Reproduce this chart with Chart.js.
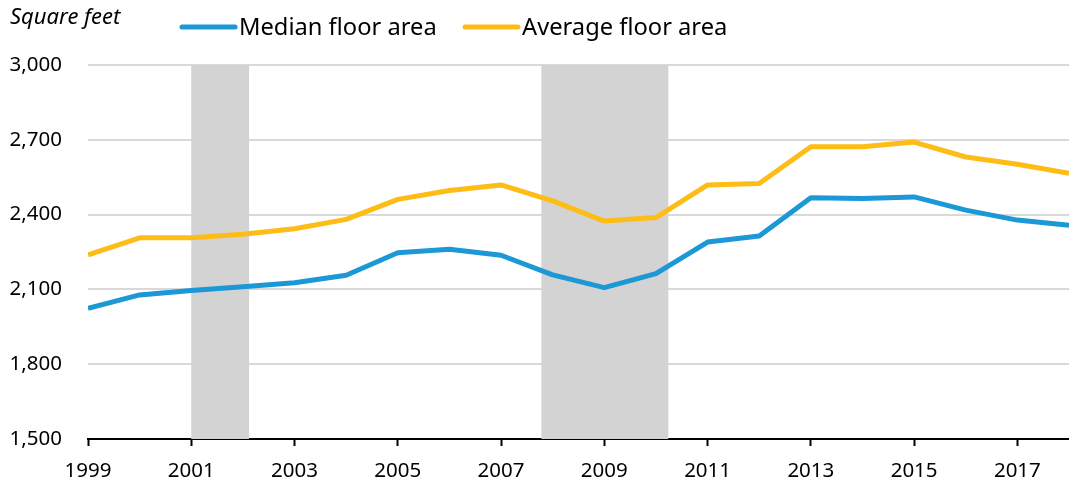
<!DOCTYPE html>
<html>
<head>
<meta charset="utf-8">
<script src="https://cdn.jsdelivr.net/npm/chart.js@4/dist/chart.umd.min.js"></script>
<style>
  html, body { margin: 0; padding: 0; background: #fff; }
  #wrap { position: relative; width: 1069px; height: 485px; }
</style>
</head>
<body>
<div id="wrap"><canvas id="c"></canvas></div>
<script>
const years = [1999,2000,2001,2002,2003,2004,2005,2006,2007,2008,2009,2010,2011,2012,2013,2014,2015,2016,2017,2018];
const medianArea = [2024,2078,2096,2111,2127,2157,2247,2261,2237,2158,2107,2163,2290,2314,2468,2465,2471,2418,2378,2357];
const averageArea = [2238,2307,2307,2321,2343,2381,2461,2497,2519,2455,2374,2388,2519,2525,2672,2672,2691,2631,2602,2566];
const seriesLabels = ['Median floor area', 'Average floor area'];
const xTickYears = [1999,2001,2003,2005,2007,2009,2011,2013,2015,2017];
const yTickValues = [1500,1800,2100,2400,2700,3000];
const recessionStarts = [2001.0, 2007.78];
const recessionEnds = [2002.12, 2010.24];
const unitLabel = 'Square feet';

const FONT = '"Segoe UI", "Noto Sans", "Open Sans", sans-serif';
const BLUE = '#1b98d5';
const YELLOW = '#fdbd16';

const shadePlugin = {
  id: 'shade',
  beforeDatasetsDraw(chart) {
    const {ctx, chartArea, scales} = chart;
    ctx.save();
    ctx.fillStyle = '#d3d3d3';
    for (let i = 0; i < recessionStarts.length; i++) {
      const x0 = scales.x.getPixelForValue(recessionStarts[i]);
      const x1 = scales.x.getPixelForValue(recessionEnds[i]);
      ctx.fillRect(x0, chartArea.top, x1 - x0, chartArea.bottom - chartArea.top);
    }
    ctx.restore();
  }
};

const legendPlugin = {
  id: 'customLegend',
  afterDraw(chart) {
    const ctx = chart.ctx;
    ctx.save();
    ctx.font = 'italic 22px ' + FONT;
    ctx.fillStyle = '#000';
    ctx.textBaseline = 'middle';
    ctx.textAlign = 'left';
    ctx.fillText(unitLabel, 10, 18);
    const starts = [180, 463];
    chart.data.datasets.forEach((ds, i) => {
      const x = starts[i];
      ctx.strokeStyle = ds.borderColor;
      ctx.lineWidth = 5;
      ctx.lineCap = 'round';
      ctx.beginPath();
      ctx.moveTo(x + 2, 27);
      ctx.lineTo(x + 55, 27);
      ctx.stroke();
      ctx.font = '23.7px ' + FONT;
      ctx.fillStyle = '#000';
      ctx.fillText(ds.label, x + 59, 28);
    });
    ctx.restore();
  }
};

new Chart(document.getElementById('c'), {
  type: 'line',
  data: {
    labels: years,
    datasets: [
      { label: seriesLabels[0], data: years.map((y, i) => ({x: y, y: medianArea[i]})), borderColor: BLUE, backgroundColor: BLUE, borderWidth: 5, pointRadius: 0, tension: 0, borderJoinStyle: 'round' },
      { label: seriesLabels[1], data: years.map((y, i) => ({x: y, y: averageArea[i]})), borderColor: YELLOW, backgroundColor: YELLOW, borderWidth: 5, pointRadius: 0, tension: 0, borderJoinStyle: 'round' }
    ]
  },
  options: {
    responsive: true,
    maintainAspectRatio: false,
    animation: false,
    layout: { padding: { top: 65, right: 0, left: 0, bottom: 0 } },
    plugins: { legend: { display: false }, tooltip: { enabled: false } },
    scales: {
      x: {
        type: 'linear',
        min: 1999,
        max: 2018,
        afterBuildTicks(scale) { scale.ticks = xTickYears.map(v => ({value: v})); },
        afterFit(scale) { scale.height = 46; },
        grid: { drawOnChartArea: false, drawTicks: true, tickLength: 7, color: '#000', tickWidth: 2 },
        border: { display: true, color: '#000', width: 2 },
        ticks: { color: '#000', font: { family: FONT, size: 20.5 }, padding: 13, maxRotation: 0, autoSkip: false, callback: v => String(v) }
      },
      y: {
        min: 1500,
        max: 3000,
        afterBuildTicks(scale) { scale.ticks = yTickValues.map(v => ({value: v})); },
        afterFit(scale) { scale.width = 88; },
        grid: { color: '#d9d9d9', lineWidth: 2, drawTicks: false },
        border: { display: false },
        ticks: { color: '#000', font: { family: FONT, size: 20.5 }, padding: 26, callback: v => v.toLocaleString('en-US') }
      }
    }
  },
  plugins: [shadePlugin, legendPlugin]
});
</script>
</body>
</html>
